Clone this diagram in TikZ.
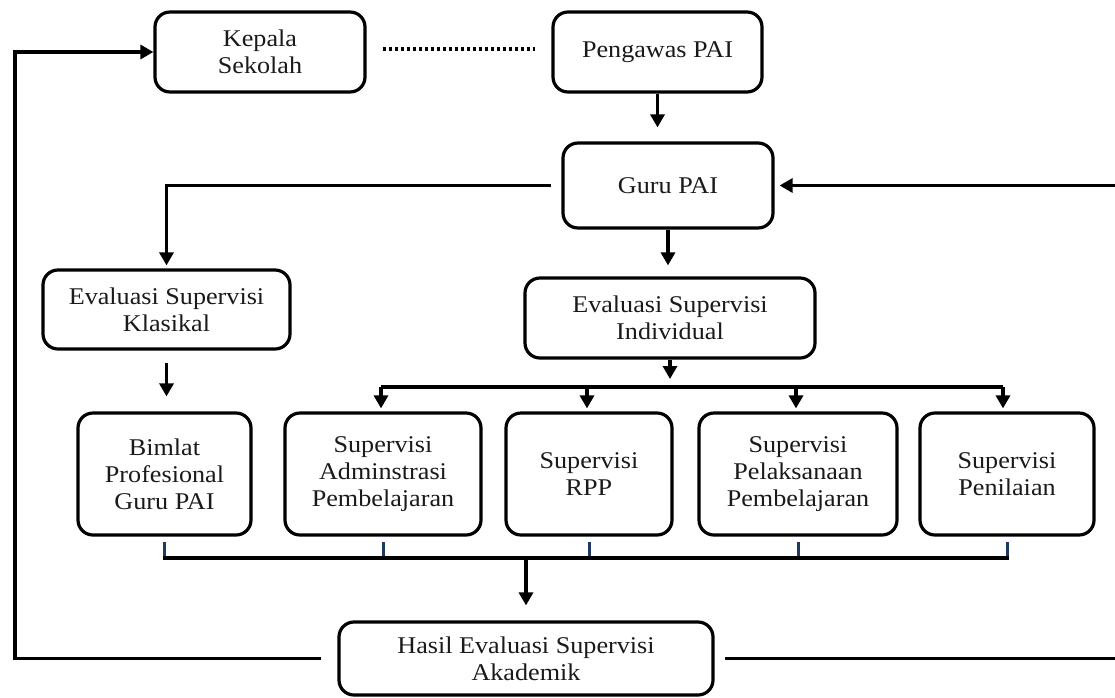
\documentclass[tikz,border=0pt]{standalone}
\usepackage{fontspec}
\setmainfont{Liberation Serif}[FakeStretch=1.09]
\usetikzlibrary{arrows.meta,calc}
\definecolor{tickblue}{HTML}{1F3864}
\definecolor{txt}{HTML}{1A1A1A}
\begin{document}
\begin{tikzpicture}[x=1pt,y=-1pt,
  box/.style={draw=black,line width=3.2pt,rounded corners=15pt,align=center,inner sep=0pt,
    text=txt,font=\fontsize{24}{27}\selectfont},
  conn/.style={draw=black,line width=3.2pt},
  arr/.style={conn,-{Triangle[width=14pt,length=13pt]}},
  tickline/.style={draw=tickblue,line width=3pt},
  dots/.style={draw=black,line width=3.4pt,dash pattern=on 3pt off 3pt}
]
\useasboundingbox (0,0) rectangle (1115,697);

% nodes
\node[box,minimum width=210pt,minimum height=80pt] (K) at (260,52) {Kepala\\Sekolah};
\node[box,minimum width=209pt,minimum height=80pt] (P) at (657.5,52) {Pengawas PAI};
\node[box,minimum width=210pt,minimum height=85pt] (G) at (668,185.5) {Guru PAI};
\node[box,minimum width=247pt,minimum height=79pt] (Kl) at (166.5,309.5) {Evaluasi Supervisi\\Klasikal};
\node[box,minimum width=290pt,minimum height=80pt] (In) at (670,318) {Evaluasi Supervisi\\Individual};
\node[box,minimum width=173pt,minimum height=122pt] (B) at (164.5,474) {Bimlat\\Profesional\\Guru PAI};
\node[box,minimum width=196pt,minimum height=122pt] (A) at (383,474) {Supervisi\\Adminstrasi\\Pembelajaran};
\node[box,minimum width=166pt,minimum height=122pt] (R) at (589,474) {Supervisi\\RPP};
\node[box,minimum width=198pt,minimum height=122pt] (Pl) at (798,474) {Supervisi\\Pelaksanaan\\Pembelajaran};
\node[box,minimum width=174pt,minimum height=122pt] (Pn) at (1007,474) {Supervisi\\Penilaian};
\node[box,minimum width=374pt,minimum height=73pt] (H) at (526,658.5) {Hasil Evaluasi Supervisi\\Akademik};

% helper coordinates
\coordinate (busT) at (0,387);
\coordinate (tkT) at (0,542);
\coordinate (busB) at (0,558);
\coordinate (fbL) at (15,658.5);
\coordinate (fbR) at (1115,658.5);
\coordinate (fbG) at (1115,185.5);

% dotted link
\path[dots] ([xshift=16pt,yshift=3pt]K.east) -- ([xshift=-16pt,yshift=3pt]P.west);

% top chain
\draw[arr,shorten >=14pt] (P.south) -- (P.south |- G.north);
\draw[arr,shorten >=3pt] ([xshift=-10pt]G.west) -| (Kl.north);
\draw[arr,shorten >=11pt] (G.south) -- (G.south |- In.north);
\draw[arr,shorten <=12pt,shorten >=15pt] (Kl.south) -- (Kl.south |- B.north);

% top bus
\draw[arr,shorten >=8pt] (In.south) -- (In.south |- busT);
\draw[conn] ([xshift=-2pt]A.north |- busT) -- ([xshift=-4pt]Pn.north |- busT);
\draw[arr,shorten >=3pt] ([xshift=-2pt]A.north |- busT) -- ([xshift=-2pt]A.north);
\draw[arr,shorten >=3pt] ([xshift=-2pt]R.north |- busT) -- ([xshift=-2pt]R.north);
\draw[arr,shorten >=3pt] ([xshift=-2pt]Pl.north |- busT) -- ([xshift=-2pt]Pl.north);
\draw[arr,shorten >=3pt] ([xshift=-4pt]Pn.north |- busT) -- ([xshift=-4pt]Pn.north);

% bottom bus with ticks
\draw[tickline] (B.south |- tkT) -- (B.south |- busB);
\draw[tickline] (A.south |- tkT) -- (A.south |- busB);
\draw[tickline] (R.south |- tkT) -- (R.south |- busB);
\draw[tickline] (Pl.south |- tkT) -- (Pl.south |- busB);
\draw[tickline] (Pn.south |- tkT) -- (Pn.south |- busB);
\draw[conn] ([xshift=-1.5pt]B.south |- busB) -- ([xshift=1.5pt]Pn.south |- busB);
\draw[arr,shorten >=15pt] (H.north |- busB) -- (H.north);

% feedback loops
\draw[arr] ([xshift=-16pt]H.west) -- (fbL) |- (K.west);
\draw[conn] ([xshift=10pt]H.east) -- (fbR);
\draw[arr,shorten >=5pt] (fbG) -- (G.east);
\end{tikzpicture}
\end{document}
